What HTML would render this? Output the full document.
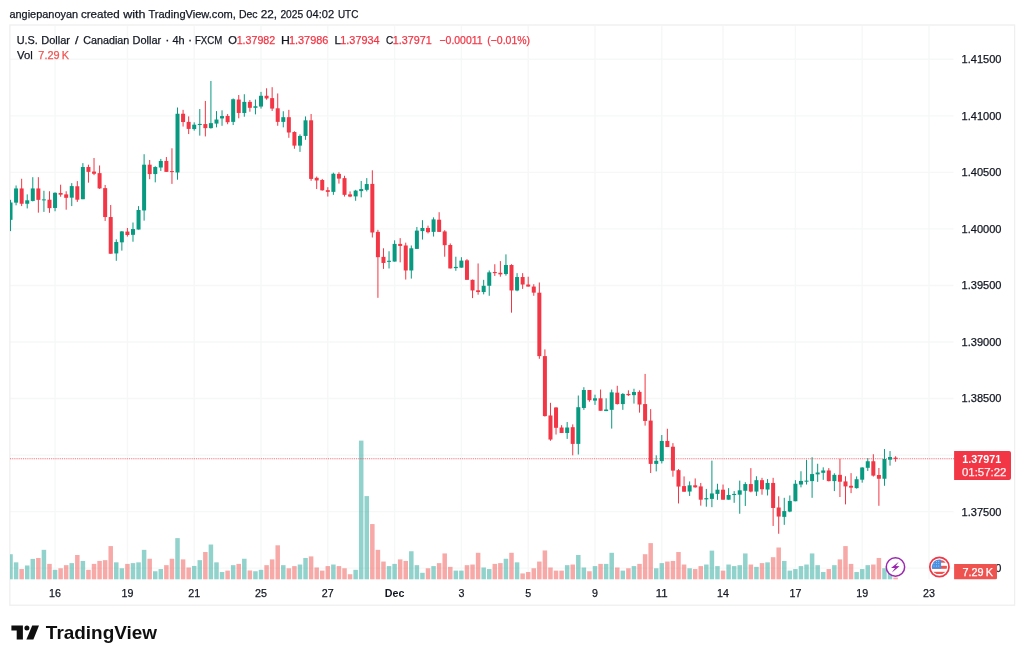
<!DOCTYPE html>
<html lang="en"><head><meta charset="utf-8"><title>USDCAD 4h - TradingView</title>
<style>html,body{margin:0;padding:0;background:#fff;}body{width:1024px;height:661px;overflow:hidden;}</style>
</head><body>
<svg width="1024" height="661" viewBox="0 0 1024 661" style="display:block">
<rect width="1024" height="661" fill="#fff"/>
<defs><clipPath id="pane"><rect x="10" y="26" width="944" height="554"/></clipPath></defs>
<g stroke="#F6F7F7" stroke-width="1.4">
<line x1="10" x2="953.5" y1="59.30" y2="59.30"/>
<line x1="10" x2="953.5" y1="115.84" y2="115.84"/>
<line x1="10" x2="953.5" y1="172.38" y2="172.38"/>
<line x1="10" x2="953.5" y1="228.92" y2="228.92"/>
<line x1="10" x2="953.5" y1="285.46" y2="285.46"/>
<line x1="10" x2="953.5" y1="342.00" y2="342.00"/>
<line x1="10" x2="953.5" y1="398.54" y2="398.54"/>
<line x1="10" x2="953.5" y1="455.08" y2="455.08"/>
<line x1="10" x2="953.5" y1="511.62" y2="511.62"/>
<line x1="10" x2="953.5" y1="568.16" y2="568.16"/>
<line x1="55.05" x2="55.05" y1="26" y2="579.3"/>
<line x1="127.41" x2="127.41" y1="26" y2="579.3"/>
<line x1="194.21" x2="194.21" y1="26" y2="579.3"/>
<line x1="261.01" x2="261.01" y1="26" y2="579.3"/>
<line x1="327.81" x2="327.81" y1="26" y2="579.3"/>
<line x1="394.61" x2="394.61" y1="26" y2="579.3"/>
<line x1="461.40" x2="461.40" y1="26" y2="579.3"/>
<line x1="528.20" x2="528.20" y1="26" y2="579.3"/>
<line x1="595.00" x2="595.00" y1="26" y2="579.3"/>
<line x1="661.80" x2="661.80" y1="26" y2="579.3"/>
<line x1="723.03" x2="723.03" y1="26" y2="579.3"/>
<line x1="795.39" x2="795.39" y1="26" y2="579.3"/>
<line x1="862.19" x2="862.19" y1="26" y2="579.3"/>
<line x1="928.99" x2="928.99" y1="26" y2="579.3"/>
</g>
<rect x="9.85" y="25.0" width="1004.75" height="580.20" fill="none" stroke="#EFEFEF" stroke-width="1.3"/>
<g clip-path="url(#pane)">
<rect x="8.27" y="554.22" width="4.5" height="25.08" fill="rgba(38,166,154,0.5)"/>
<rect x="13.83" y="562.34" width="4.5" height="16.96" fill="rgba(38,166,154,0.5)"/>
<rect x="19.40" y="569.06" width="4.5" height="10.24" fill="rgba(239,83,80,0.5)"/>
<rect x="24.97" y="565.47" width="4.5" height="13.83" fill="rgba(38,166,154,0.5)"/>
<rect x="30.53" y="558.91" width="4.5" height="20.39" fill="rgba(38,166,154,0.5)"/>
<rect x="36.10" y="557.97" width="4.5" height="21.33" fill="rgba(239,83,80,0.5)"/>
<rect x="41.67" y="549.84" width="4.5" height="29.46" fill="rgba(38,166,154,0.5)"/>
<rect x="47.23" y="563.91" width="4.5" height="15.39" fill="rgba(239,83,80,0.5)"/>
<rect x="52.80" y="569.84" width="4.5" height="9.46" fill="rgba(38,166,154,0.5)"/>
<rect x="58.37" y="568.28" width="4.5" height="11.02" fill="rgba(239,83,80,0.5)"/>
<rect x="63.93" y="565.16" width="4.5" height="14.14" fill="rgba(239,83,80,0.5)"/>
<rect x="69.50" y="563.12" width="4.5" height="16.17" fill="rgba(38,166,154,0.5)"/>
<rect x="75.07" y="555.00" width="4.5" height="24.30" fill="rgba(239,83,80,0.5)"/>
<rect x="80.63" y="560.94" width="4.5" height="18.36" fill="rgba(38,166,154,0.5)"/>
<rect x="86.20" y="569.84" width="4.5" height="9.46" fill="rgba(239,83,80,0.5)"/>
<rect x="91.77" y="563.91" width="4.5" height="15.39" fill="rgba(239,83,80,0.5)"/>
<rect x="97.33" y="560.94" width="4.5" height="18.36" fill="rgba(239,83,80,0.5)"/>
<rect x="102.90" y="560.16" width="4.5" height="19.14" fill="rgba(239,83,80,0.5)"/>
<rect x="108.46" y="546.09" width="4.5" height="33.21" fill="rgba(239,83,80,0.5)"/>
<rect x="114.03" y="562.34" width="4.5" height="16.96" fill="rgba(38,166,154,0.5)"/>
<rect x="119.60" y="568.28" width="4.5" height="11.02" fill="rgba(38,166,154,0.5)"/>
<rect x="125.16" y="563.91" width="4.5" height="15.39" fill="rgba(239,83,80,0.5)"/>
<rect x="130.73" y="563.12" width="4.5" height="16.17" fill="rgba(38,166,154,0.5)"/>
<rect x="136.30" y="562.34" width="4.5" height="16.96" fill="rgba(38,166,154,0.5)"/>
<rect x="141.86" y="549.84" width="4.5" height="29.46" fill="rgba(38,166,154,0.5)"/>
<rect x="147.43" y="558.75" width="4.5" height="20.55" fill="rgba(239,83,80,0.5)"/>
<rect x="153.00" y="571.25" width="4.5" height="8.05" fill="rgba(38,166,154,0.5)"/>
<rect x="158.56" y="569.06" width="4.5" height="10.24" fill="rgba(38,166,154,0.5)"/>
<rect x="164.13" y="565.16" width="4.5" height="14.14" fill="rgba(239,83,80,0.5)"/>
<rect x="169.70" y="558.75" width="4.5" height="20.55" fill="rgba(239,83,80,0.5)"/>
<rect x="175.26" y="538.12" width="4.5" height="41.17" fill="rgba(38,166,154,0.5)"/>
<rect x="180.83" y="559.38" width="4.5" height="19.92" fill="rgba(239,83,80,0.5)"/>
<rect x="186.40" y="567.50" width="4.5" height="11.80" fill="rgba(239,83,80,0.5)"/>
<rect x="191.96" y="565.94" width="4.5" height="13.36" fill="rgba(38,166,154,0.5)"/>
<rect x="197.53" y="560.16" width="4.5" height="19.14" fill="rgba(38,166,154,0.5)"/>
<rect x="203.10" y="552.03" width="4.5" height="27.27" fill="rgba(239,83,80,0.5)"/>
<rect x="208.66" y="544.53" width="4.5" height="34.77" fill="rgba(38,166,154,0.5)"/>
<rect x="214.23" y="562.34" width="4.5" height="16.96" fill="rgba(38,166,154,0.5)"/>
<rect x="219.79" y="572.03" width="4.5" height="7.27" fill="rgba(38,166,154,0.5)"/>
<rect x="225.36" y="570.62" width="4.5" height="8.67" fill="rgba(239,83,80,0.5)"/>
<rect x="230.93" y="565.16" width="4.5" height="14.14" fill="rgba(38,166,154,0.5)"/>
<rect x="236.49" y="563.91" width="4.5" height="15.39" fill="rgba(239,83,80,0.5)"/>
<rect x="242.06" y="558.75" width="4.5" height="20.55" fill="rgba(38,166,154,0.5)"/>
<rect x="247.63" y="570.47" width="4.5" height="8.83" fill="rgba(239,83,80,0.5)"/>
<rect x="253.19" y="571.25" width="4.5" height="8.05" fill="rgba(38,166,154,0.5)"/>
<rect x="258.76" y="569.84" width="4.5" height="9.46" fill="rgba(38,166,154,0.5)"/>
<rect x="264.33" y="565.16" width="4.5" height="14.14" fill="rgba(239,83,80,0.5)"/>
<rect x="269.89" y="559.38" width="4.5" height="19.92" fill="rgba(239,83,80,0.5)"/>
<rect x="275.46" y="545.31" width="4.5" height="33.99" fill="rgba(239,83,80,0.5)"/>
<rect x="281.03" y="565.16" width="4.5" height="14.14" fill="rgba(38,166,154,0.5)"/>
<rect x="286.59" y="568.28" width="4.5" height="11.02" fill="rgba(239,83,80,0.5)"/>
<rect x="292.16" y="566.09" width="4.5" height="13.21" fill="rgba(239,83,80,0.5)"/>
<rect x="297.73" y="564.53" width="4.5" height="14.77" fill="rgba(38,166,154,0.5)"/>
<rect x="303.29" y="557.97" width="4.5" height="21.33" fill="rgba(38,166,154,0.5)"/>
<rect x="308.86" y="556.41" width="4.5" height="22.89" fill="rgba(239,83,80,0.5)"/>
<rect x="314.43" y="567.50" width="4.5" height="11.80" fill="rgba(239,83,80,0.5)"/>
<rect x="319.99" y="570.62" width="4.5" height="8.67" fill="rgba(239,83,80,0.5)"/>
<rect x="325.56" y="566.09" width="4.5" height="13.21" fill="rgba(239,83,80,0.5)"/>
<rect x="331.12" y="564.53" width="4.5" height="14.77" fill="rgba(38,166,154,0.5)"/>
<rect x="336.69" y="566.09" width="4.5" height="13.21" fill="rgba(239,83,80,0.5)"/>
<rect x="342.26" y="568.28" width="4.5" height="11.02" fill="rgba(239,83,80,0.5)"/>
<rect x="347.82" y="574.22" width="4.5" height="5.08" fill="rgba(239,83,80,0.5)"/>
<rect x="353.39" y="569.84" width="4.5" height="9.46" fill="rgba(38,166,154,0.5)"/>
<rect x="358.96" y="440.62" width="4.5" height="138.67" fill="rgba(38,166,154,0.5)"/>
<rect x="364.52" y="496.09" width="4.5" height="83.21" fill="rgba(38,166,154,0.5)"/>
<rect x="370.09" y="524.06" width="4.5" height="55.24" fill="rgba(239,83,80,0.5)"/>
<rect x="375.66" y="549.84" width="4.5" height="29.46" fill="rgba(239,83,80,0.5)"/>
<rect x="381.22" y="561.56" width="4.5" height="17.74" fill="rgba(239,83,80,0.5)"/>
<rect x="386.79" y="566.09" width="4.5" height="13.21" fill="rgba(38,166,154,0.5)"/>
<rect x="392.36" y="563.91" width="4.5" height="15.39" fill="rgba(38,166,154,0.5)"/>
<rect x="397.92" y="559.38" width="4.5" height="19.92" fill="rgba(239,83,80,0.5)"/>
<rect x="403.49" y="560.94" width="4.5" height="18.36" fill="rgba(239,83,80,0.5)"/>
<rect x="409.06" y="551.25" width="4.5" height="28.05" fill="rgba(38,166,154,0.5)"/>
<rect x="414.62" y="565.16" width="4.5" height="14.14" fill="rgba(38,166,154,0.5)"/>
<rect x="420.19" y="572.81" width="4.5" height="6.49" fill="rgba(38,166,154,0.5)"/>
<rect x="425.76" y="568.28" width="4.5" height="11.02" fill="rgba(239,83,80,0.5)"/>
<rect x="431.32" y="566.09" width="4.5" height="13.21" fill="rgba(38,166,154,0.5)"/>
<rect x="436.89" y="563.12" width="4.5" height="16.17" fill="rgba(239,83,80,0.5)"/>
<rect x="442.45" y="553.44" width="4.5" height="25.86" fill="rgba(239,83,80,0.5)"/>
<rect x="448.02" y="566.88" width="4.5" height="12.42" fill="rgba(239,83,80,0.5)"/>
<rect x="453.59" y="570.62" width="4.5" height="8.67" fill="rgba(38,166,154,0.5)"/>
<rect x="459.15" y="570.62" width="4.5" height="8.67" fill="rgba(38,166,154,0.5)"/>
<rect x="464.72" y="565.16" width="4.5" height="14.14" fill="rgba(239,83,80,0.5)"/>
<rect x="470.29" y="564.53" width="4.5" height="14.77" fill="rgba(239,83,80,0.5)"/>
<rect x="475.85" y="552.81" width="4.5" height="26.49" fill="rgba(239,83,80,0.5)"/>
<rect x="481.42" y="567.50" width="4.5" height="11.80" fill="rgba(38,166,154,0.5)"/>
<rect x="486.99" y="569.06" width="4.5" height="10.24" fill="rgba(38,166,154,0.5)"/>
<rect x="492.55" y="563.91" width="4.5" height="15.39" fill="rgba(239,83,80,0.5)"/>
<rect x="498.12" y="563.12" width="4.5" height="16.17" fill="rgba(239,83,80,0.5)"/>
<rect x="503.69" y="558.75" width="4.5" height="20.55" fill="rgba(38,166,154,0.5)"/>
<rect x="509.25" y="552.81" width="4.5" height="26.49" fill="rgba(239,83,80,0.5)"/>
<rect x="514.82" y="562.34" width="4.5" height="16.96" fill="rgba(38,166,154,0.5)"/>
<rect x="520.39" y="573.44" width="4.5" height="5.86" fill="rgba(239,83,80,0.5)"/>
<rect x="525.95" y="572.03" width="4.5" height="7.27" fill="rgba(239,83,80,0.5)"/>
<rect x="531.52" y="568.28" width="4.5" height="11.02" fill="rgba(239,83,80,0.5)"/>
<rect x="537.09" y="561.56" width="4.5" height="17.74" fill="rgba(239,83,80,0.5)"/>
<rect x="542.65" y="550.47" width="4.5" height="28.83" fill="rgba(239,83,80,0.5)"/>
<rect x="548.22" y="567.50" width="4.5" height="11.80" fill="rgba(239,83,80,0.5)"/>
<rect x="553.78" y="570.62" width="4.5" height="8.67" fill="rgba(239,83,80,0.5)"/>
<rect x="559.35" y="570.62" width="4.5" height="8.67" fill="rgba(239,83,80,0.5)"/>
<rect x="564.92" y="565.16" width="4.5" height="14.14" fill="rgba(38,166,154,0.5)"/>
<rect x="570.48" y="564.53" width="4.5" height="14.77" fill="rgba(239,83,80,0.5)"/>
<rect x="576.05" y="555.00" width="4.5" height="24.30" fill="rgba(38,166,154,0.5)"/>
<rect x="581.62" y="567.50" width="4.5" height="11.80" fill="rgba(38,166,154,0.5)"/>
<rect x="587.18" y="571.25" width="4.5" height="8.05" fill="rgba(239,83,80,0.5)"/>
<rect x="592.75" y="566.09" width="4.5" height="13.21" fill="rgba(38,166,154,0.5)"/>
<rect x="598.32" y="563.91" width="4.5" height="15.39" fill="rgba(239,83,80,0.5)"/>
<rect x="603.88" y="563.91" width="4.5" height="15.39" fill="rgba(38,166,154,0.5)"/>
<rect x="609.45" y="552.81" width="4.5" height="26.49" fill="rgba(38,166,154,0.5)"/>
<rect x="615.02" y="567.50" width="4.5" height="11.80" fill="rgba(239,83,80,0.5)"/>
<rect x="620.58" y="570.62" width="4.5" height="8.67" fill="rgba(38,166,154,0.5)"/>
<rect x="626.15" y="568.28" width="4.5" height="11.02" fill="rgba(239,83,80,0.5)"/>
<rect x="631.72" y="566.09" width="4.5" height="13.21" fill="rgba(38,166,154,0.5)"/>
<rect x="637.28" y="563.91" width="4.5" height="15.39" fill="rgba(239,83,80,0.5)"/>
<rect x="642.85" y="554.22" width="4.5" height="25.08" fill="rgba(239,83,80,0.5)"/>
<rect x="648.42" y="543.12" width="4.5" height="36.17" fill="rgba(239,83,80,0.5)"/>
<rect x="653.98" y="568.28" width="4.5" height="11.02" fill="rgba(38,166,154,0.5)"/>
<rect x="659.55" y="563.12" width="4.5" height="16.17" fill="rgba(38,166,154,0.5)"/>
<rect x="665.11" y="561.56" width="4.5" height="17.74" fill="rgba(239,83,80,0.5)"/>
<rect x="670.68" y="560.94" width="4.5" height="18.36" fill="rgba(239,83,80,0.5)"/>
<rect x="676.25" y="552.03" width="4.5" height="27.27" fill="rgba(239,83,80,0.5)"/>
<rect x="681.81" y="564.53" width="4.5" height="14.77" fill="rgba(239,83,80,0.5)"/>
<rect x="687.38" y="568.28" width="4.5" height="11.02" fill="rgba(38,166,154,0.5)"/>
<rect x="692.95" y="569.06" width="4.5" height="10.24" fill="rgba(239,83,80,0.5)"/>
<rect x="698.51" y="566.09" width="4.5" height="13.21" fill="rgba(239,83,80,0.5)"/>
<rect x="704.08" y="564.53" width="4.5" height="14.77" fill="rgba(38,166,154,0.5)"/>
<rect x="709.65" y="550.62" width="4.5" height="28.67" fill="rgba(38,166,154,0.5)"/>
<rect x="715.21" y="566.09" width="4.5" height="13.21" fill="rgba(38,166,154,0.5)"/>
<rect x="720.78" y="570.62" width="4.5" height="8.67" fill="rgba(239,83,80,0.5)"/>
<rect x="726.35" y="564.53" width="4.5" height="14.77" fill="rgba(38,166,154,0.5)"/>
<rect x="731.91" y="566.09" width="4.5" height="13.21" fill="rgba(38,166,154,0.5)"/>
<rect x="737.48" y="565.16" width="4.5" height="14.14" fill="rgba(38,166,154,0.5)"/>
<rect x="743.05" y="553.44" width="4.5" height="25.86" fill="rgba(38,166,154,0.5)"/>
<rect x="748.61" y="564.53" width="4.5" height="14.77" fill="rgba(239,83,80,0.5)"/>
<rect x="754.18" y="566.88" width="4.5" height="12.42" fill="rgba(38,166,154,0.5)"/>
<rect x="759.75" y="563.12" width="4.5" height="16.17" fill="rgba(239,83,80,0.5)"/>
<rect x="765.31" y="562.34" width="4.5" height="16.96" fill="rgba(38,166,154,0.5)"/>
<rect x="770.88" y="557.19" width="4.5" height="22.11" fill="rgba(239,83,80,0.5)"/>
<rect x="776.44" y="547.50" width="4.5" height="31.80" fill="rgba(239,83,80,0.5)"/>
<rect x="782.01" y="560.94" width="4.5" height="18.36" fill="rgba(38,166,154,0.5)"/>
<rect x="787.58" y="570.62" width="4.5" height="8.67" fill="rgba(38,166,154,0.5)"/>
<rect x="793.14" y="569.06" width="4.5" height="10.24" fill="rgba(38,166,154,0.5)"/>
<rect x="798.71" y="566.09" width="4.5" height="13.21" fill="rgba(38,166,154,0.5)"/>
<rect x="804.28" y="564.53" width="4.5" height="14.77" fill="rgba(38,166,154,0.5)"/>
<rect x="809.84" y="553.44" width="4.5" height="25.86" fill="rgba(38,166,154,0.5)"/>
<rect x="815.41" y="565.16" width="4.5" height="14.14" fill="rgba(38,166,154,0.5)"/>
<rect x="820.98" y="572.03" width="4.5" height="7.27" fill="rgba(38,166,154,0.5)"/>
<rect x="826.54" y="569.06" width="4.5" height="10.24" fill="rgba(239,83,80,0.5)"/>
<rect x="832.11" y="565.16" width="4.5" height="14.14" fill="rgba(38,166,154,0.5)"/>
<rect x="837.68" y="559.38" width="4.5" height="19.92" fill="rgba(239,83,80,0.5)"/>
<rect x="843.24" y="546.09" width="4.5" height="33.21" fill="rgba(239,83,80,0.5)"/>
<rect x="848.81" y="563.91" width="4.5" height="15.39" fill="rgba(239,83,80,0.5)"/>
<rect x="854.38" y="572.03" width="4.5" height="7.27" fill="rgba(38,166,154,0.5)"/>
<rect x="859.94" y="569.06" width="4.5" height="10.24" fill="rgba(38,166,154,0.5)"/>
<rect x="865.51" y="565.16" width="4.5" height="14.14" fill="rgba(38,166,154,0.5)"/>
<rect x="871.08" y="564.53" width="4.5" height="14.77" fill="rgba(239,83,80,0.5)"/>
<rect x="876.64" y="557.97" width="4.5" height="21.33" fill="rgba(239,83,80,0.5)"/>
<rect x="882.21" y="568.28" width="4.5" height="11.02" fill="rgba(38,166,154,0.5)"/>
<rect x="887.77" y="573.28" width="4.5" height="6.02" fill="rgba(38,166,154,0.5)"/>
<rect x="893.34" y="577.50" width="4.5" height="1.80" fill="rgba(239,83,80,0.5)"/>
<line x1="10" x2="954" y1="458.8" y2="458.8" stroke="#F23645" stroke-width="1.1" stroke-dasharray="0.93 0.93" opacity="0.75"/>
<rect x="10.02" y="199.84" width="1" height="31.25" fill="#089981"/>
<rect x="8.52" y="202.50" width="4" height="17.34" fill="#089981"/>
<rect x="15.58" y="185.47" width="1" height="19.84" fill="#089981"/>
<rect x="14.08" y="188.44" width="4" height="14.22" fill="#089981"/>
<rect x="21.15" y="178.75" width="1" height="27.34" fill="#F23645"/>
<rect x="19.65" y="188.44" width="4" height="15.31" fill="#F23645"/>
<rect x="26.72" y="194.38" width="1" height="14.06" fill="#089981"/>
<rect x="25.22" y="200.31" width="4" height="3.44" fill="#089981"/>
<rect x="32.28" y="177.19" width="1" height="24.22" fill="#089981"/>
<rect x="30.78" y="188.44" width="4" height="12.50" fill="#089981"/>
<rect x="37.85" y="177.19" width="1" height="35.47" fill="#F23645"/>
<rect x="36.35" y="188.44" width="4" height="11.41" fill="#F23645"/>
<rect x="43.42" y="190.78" width="1" height="21.09" fill="#089981"/>
<rect x="41.92" y="199.38" width="4" height="1.00" fill="#089981"/>
<rect x="48.98" y="191.25" width="1" height="21.56" fill="#F23645"/>
<rect x="47.48" y="199.69" width="4" height="8.44" fill="#F23645"/>
<rect x="54.55" y="192.34" width="1" height="18.91" fill="#089981"/>
<rect x="53.05" y="192.81" width="4" height="15.16" fill="#089981"/>
<rect x="60.12" y="184.69" width="1" height="12.03" fill="#F23645"/>
<rect x="58.62" y="192.97" width="4" height="1.72" fill="#F23645"/>
<rect x="65.68" y="191.25" width="1" height="18.44" fill="#F23645"/>
<rect x="64.18" y="194.38" width="4" height="3.44" fill="#F23645"/>
<rect x="71.25" y="183.12" width="1" height="22.97" fill="#089981"/>
<rect x="69.75" y="186.09" width="4" height="11.56" fill="#089981"/>
<rect x="76.82" y="181.09" width="1" height="20.78" fill="#F23645"/>
<rect x="75.32" y="186.25" width="4" height="13.44" fill="#F23645"/>
<rect x="82.38" y="163.12" width="1" height="36.09" fill="#089981"/>
<rect x="80.88" y="167.03" width="4" height="32.19" fill="#089981"/>
<rect x="87.95" y="164.69" width="1" height="17.97" fill="#F23645"/>
<rect x="86.45" y="167.03" width="4" height="4.84" fill="#F23645"/>
<rect x="93.52" y="157.97" width="1" height="17.19" fill="#F23645"/>
<rect x="92.02" y="171.56" width="4" height="2.19" fill="#F23645"/>
<rect x="99.08" y="165.47" width="1" height="23.44" fill="#F23645"/>
<rect x="97.58" y="173.12" width="4" height="15.31" fill="#F23645"/>
<rect x="104.65" y="185.00" width="1" height="35.94" fill="#F23645"/>
<rect x="103.15" y="188.12" width="4" height="28.91" fill="#F23645"/>
<rect x="110.21" y="205.00" width="1" height="48.75" fill="#F23645"/>
<rect x="108.71" y="217.03" width="4" height="36.72" fill="#F23645"/>
<rect x="115.78" y="239.38" width="1" height="21.41" fill="#089981"/>
<rect x="114.28" y="242.03" width="4" height="11.41" fill="#089981"/>
<rect x="121.35" y="231.09" width="1" height="19.53" fill="#089981"/>
<rect x="119.85" y="231.41" width="4" height="10.94" fill="#089981"/>
<rect x="126.91" y="227.97" width="1" height="8.59" fill="#F23645"/>
<rect x="125.41" y="231.56" width="4" height="3.44" fill="#F23645"/>
<rect x="132.48" y="222.50" width="1" height="19.22" fill="#089981"/>
<rect x="130.98" y="229.06" width="4" height="5.78" fill="#089981"/>
<rect x="138.05" y="206.09" width="1" height="23.44" fill="#089981"/>
<rect x="136.55" y="210.00" width="4" height="19.53" fill="#089981"/>
<rect x="143.61" y="154.22" width="1" height="66.41" fill="#089981"/>
<rect x="142.11" y="164.69" width="4" height="45.78" fill="#089981"/>
<rect x="149.18" y="160.00" width="1" height="19.22" fill="#F23645"/>
<rect x="147.68" y="164.69" width="4" height="9.38" fill="#F23645"/>
<rect x="154.75" y="166.25" width="1" height="16.09" fill="#089981"/>
<rect x="153.25" y="167.03" width="4" height="7.03" fill="#089981"/>
<rect x="160.31" y="158.91" width="1" height="12.03" fill="#089981"/>
<rect x="158.81" y="160.94" width="4" height="6.56" fill="#089981"/>
<rect x="165.88" y="157.03" width="1" height="14.84" fill="#F23645"/>
<rect x="164.38" y="160.94" width="4" height="10.94" fill="#F23645"/>
<rect x="171.45" y="148.28" width="1" height="35.62" fill="#F23645"/>
<rect x="169.95" y="171.09" width="4" height="1.00" fill="#F23645"/>
<rect x="177.01" y="107.50" width="1" height="72.20" fill="#089981"/>
<rect x="175.51" y="113.75" width="4" height="58.75" fill="#089981"/>
<rect x="182.58" y="109.84" width="1" height="16.72" fill="#F23645"/>
<rect x="181.08" y="113.75" width="4" height="8.28" fill="#F23645"/>
<rect x="188.15" y="116.41" width="1" height="17.66" fill="#F23645"/>
<rect x="186.65" y="121.88" width="4" height="7.03" fill="#F23645"/>
<rect x="193.71" y="122.34" width="1" height="8.28" fill="#089981"/>
<rect x="192.21" y="124.69" width="4" height="4.38" fill="#089981"/>
<rect x="199.28" y="109.06" width="1" height="26.56" fill="#089981"/>
<rect x="197.78" y="123.91" width="4" height="1.09" fill="#089981"/>
<rect x="204.85" y="100.94" width="1" height="35.47" fill="#F23645"/>
<rect x="203.35" y="124.06" width="4" height="4.06" fill="#F23645"/>
<rect x="210.41" y="80.94" width="1" height="47.66" fill="#089981"/>
<rect x="208.91" y="123.12" width="4" height="5.00" fill="#089981"/>
<rect x="215.98" y="111.09" width="1" height="16.25" fill="#089981"/>
<rect x="214.48" y="119.53" width="4" height="4.06" fill="#089981"/>
<rect x="221.54" y="110.31" width="1" height="15.47" fill="#089981"/>
<rect x="220.04" y="116.09" width="4" height="2.34" fill="#089981"/>
<rect x="227.11" y="114.06" width="1" height="10.16" fill="#F23645"/>
<rect x="225.61" y="115.94" width="4" height="6.25" fill="#F23645"/>
<rect x="232.68" y="98.44" width="1" height="26.56" fill="#089981"/>
<rect x="231.18" y="99.22" width="4" height="22.66" fill="#089981"/>
<rect x="238.24" y="95.00" width="1" height="23.28" fill="#F23645"/>
<rect x="236.74" y="99.53" width="4" height="13.44" fill="#F23645"/>
<rect x="243.81" y="94.22" width="1" height="22.50" fill="#089981"/>
<rect x="242.31" y="101.88" width="4" height="11.09" fill="#089981"/>
<rect x="249.38" y="100.00" width="1" height="11.72" fill="#F23645"/>
<rect x="247.88" y="101.88" width="4" height="5.94" fill="#F23645"/>
<rect x="254.94" y="99.53" width="1" height="14.84" fill="#089981"/>
<rect x="253.44" y="106.25" width="4" height="1.56" fill="#089981"/>
<rect x="260.51" y="91.88" width="1" height="16.72" fill="#089981"/>
<rect x="259.01" y="95.78" width="4" height="10.78" fill="#089981"/>
<rect x="266.08" y="88.28" width="1" height="11.41" fill="#F23645"/>
<rect x="264.58" y="95.78" width="4" height="2.66" fill="#F23645"/>
<rect x="271.64" y="87.19" width="1" height="23.75" fill="#F23645"/>
<rect x="270.14" y="98.12" width="4" height="10.47" fill="#F23645"/>
<rect x="277.21" y="93.44" width="1" height="32.34" fill="#F23645"/>
<rect x="275.71" y="108.28" width="4" height="13.59" fill="#F23645"/>
<rect x="282.78" y="111.25" width="1" height="16.09" fill="#089981"/>
<rect x="281.28" y="117.19" width="4" height="4.69" fill="#089981"/>
<rect x="288.34" y="109.84" width="1" height="27.97" fill="#F23645"/>
<rect x="286.84" y="117.19" width="4" height="15.31" fill="#F23645"/>
<rect x="293.91" y="131.25" width="1" height="17.50" fill="#F23645"/>
<rect x="292.41" y="132.03" width="4" height="13.59" fill="#F23645"/>
<rect x="299.48" y="134.38" width="1" height="17.50" fill="#089981"/>
<rect x="297.98" y="135.94" width="4" height="9.69" fill="#089981"/>
<rect x="305.04" y="116.41" width="1" height="23.44" fill="#089981"/>
<rect x="303.54" y="120.31" width="4" height="15.62" fill="#089981"/>
<rect x="310.61" y="114.00" width="1" height="66.80" fill="#F23645"/>
<rect x="309.11" y="120.30" width="4" height="58.60" fill="#F23645"/>
<rect x="316.18" y="176.56" width="1" height="12.50" fill="#F23645"/>
<rect x="314.68" y="177.81" width="4" height="2.66" fill="#F23645"/>
<rect x="321.74" y="178.91" width="1" height="11.72" fill="#F23645"/>
<rect x="320.24" y="180.00" width="4" height="10.31" fill="#F23645"/>
<rect x="327.31" y="187.19" width="1" height="9.38" fill="#F23645"/>
<rect x="325.81" y="190.16" width="4" height="1.72" fill="#F23645"/>
<rect x="332.88" y="172.66" width="1" height="22.19" fill="#089981"/>
<rect x="331.38" y="173.75" width="4" height="18.12" fill="#089981"/>
<rect x="338.44" y="172.19" width="1" height="11.41" fill="#F23645"/>
<rect x="336.94" y="173.91" width="4" height="4.69" fill="#F23645"/>
<rect x="344.01" y="175.78" width="1" height="20.78" fill="#F23645"/>
<rect x="342.51" y="178.12" width="4" height="16.72" fill="#F23645"/>
<rect x="349.57" y="191.41" width="1" height="5.78" fill="#F23645"/>
<rect x="348.07" y="194.38" width="4" height="2.19" fill="#F23645"/>
<rect x="355.14" y="189.84" width="1" height="10.94" fill="#089981"/>
<rect x="353.64" y="190.62" width="4" height="5.78" fill="#089981"/>
<rect x="360.71" y="180.94" width="1" height="16.41" fill="#089981"/>
<rect x="359.21" y="189.06" width="4" height="2.03" fill="#089981"/>
<rect x="366.27" y="178.12" width="1" height="13.28" fill="#089981"/>
<rect x="364.77" y="184.06" width="4" height="5.78" fill="#089981"/>
<rect x="371.84" y="170.31" width="1" height="67.19" fill="#F23645"/>
<rect x="370.34" y="183.91" width="4" height="48.59" fill="#F23645"/>
<rect x="377.41" y="229.84" width="1" height="67.97" fill="#F23645"/>
<rect x="375.91" y="231.88" width="4" height="25.31" fill="#F23645"/>
<rect x="382.97" y="248.28" width="1" height="20.62" fill="#F23645"/>
<rect x="381.47" y="256.88" width="4" height="6.09" fill="#F23645"/>
<rect x="388.54" y="251.25" width="1" height="17.19" fill="#089981"/>
<rect x="387.04" y="260.78" width="4" height="1.09" fill="#089981"/>
<rect x="394.11" y="240.31" width="1" height="21.25" fill="#089981"/>
<rect x="392.61" y="243.91" width="4" height="17.66" fill="#089981"/>
<rect x="399.67" y="238.12" width="1" height="24.22" fill="#F23645"/>
<rect x="398.17" y="243.91" width="4" height="2.03" fill="#F23645"/>
<rect x="405.24" y="242.66" width="1" height="36.88" fill="#F23645"/>
<rect x="403.74" y="245.47" width="4" height="25.00" fill="#F23645"/>
<rect x="410.81" y="245.47" width="1" height="33.12" fill="#089981"/>
<rect x="409.31" y="248.28" width="4" height="22.19" fill="#089981"/>
<rect x="416.37" y="227.03" width="1" height="21.88" fill="#089981"/>
<rect x="414.87" y="230.62" width="4" height="18.28" fill="#089981"/>
<rect x="421.94" y="220.16" width="1" height="19.38" fill="#089981"/>
<rect x="420.44" y="227.97" width="4" height="3.12" fill="#089981"/>
<rect x="427.51" y="225.62" width="1" height="7.81" fill="#F23645"/>
<rect x="426.01" y="227.97" width="4" height="4.22" fill="#F23645"/>
<rect x="433.07" y="217.34" width="1" height="19.22" fill="#089981"/>
<rect x="431.57" y="219.38" width="4" height="12.50" fill="#089981"/>
<rect x="438.64" y="212.19" width="1" height="19.69" fill="#F23645"/>
<rect x="437.14" y="219.69" width="4" height="12.19" fill="#F23645"/>
<rect x="444.20" y="230.16" width="1" height="26.56" fill="#F23645"/>
<rect x="442.70" y="231.41" width="4" height="13.75" fill="#F23645"/>
<rect x="449.77" y="243.44" width="1" height="25.00" fill="#F23645"/>
<rect x="448.27" y="245.00" width="4" height="23.44" fill="#F23645"/>
<rect x="455.34" y="256.72" width="1" height="14.06" fill="#089981"/>
<rect x="453.84" y="266.88" width="4" height="1.25" fill="#089981"/>
<rect x="460.90" y="257.19" width="1" height="10.47" fill="#089981"/>
<rect x="459.40" y="260.62" width="4" height="7.03" fill="#089981"/>
<rect x="466.47" y="259.06" width="1" height="20.78" fill="#F23645"/>
<rect x="464.97" y="260.31" width="4" height="19.53" fill="#F23645"/>
<rect x="472.04" y="279.53" width="1" height="18.59" fill="#F23645"/>
<rect x="470.54" y="279.84" width="4" height="10.62" fill="#F23645"/>
<rect x="477.60" y="263.44" width="1" height="31.25" fill="#F23645"/>
<rect x="476.10" y="290.31" width="4" height="1.72" fill="#F23645"/>
<rect x="483.17" y="279.84" width="1" height="14.53" fill="#089981"/>
<rect x="481.67" y="285.78" width="4" height="6.25" fill="#089981"/>
<rect x="488.74" y="270.47" width="1" height="25.31" fill="#089981"/>
<rect x="487.24" y="272.34" width="4" height="13.44" fill="#089981"/>
<rect x="494.30" y="264.22" width="1" height="11.72" fill="#F23645"/>
<rect x="492.80" y="272.03" width="4" height="1.09" fill="#F23645"/>
<rect x="499.87" y="261.09" width="1" height="15.62" fill="#F23645"/>
<rect x="498.37" y="272.81" width="4" height="1.56" fill="#F23645"/>
<rect x="505.44" y="254.38" width="1" height="21.25" fill="#089981"/>
<rect x="503.94" y="265.00" width="4" height="9.06" fill="#089981"/>
<rect x="511.00" y="264.22" width="1" height="48.44" fill="#F23645"/>
<rect x="509.50" y="265.00" width="4" height="25.47" fill="#F23645"/>
<rect x="516.57" y="273.12" width="1" height="18.12" fill="#089981"/>
<rect x="515.07" y="277.03" width="4" height="13.44" fill="#089981"/>
<rect x="522.14" y="273.12" width="1" height="15.78" fill="#F23645"/>
<rect x="520.64" y="277.03" width="4" height="7.50" fill="#F23645"/>
<rect x="527.70" y="276.72" width="1" height="9.84" fill="#F23645"/>
<rect x="526.20" y="284.53" width="4" height="2.03" fill="#F23645"/>
<rect x="533.27" y="284.22" width="1" height="11.56" fill="#F23645"/>
<rect x="531.77" y="286.56" width="4" height="6.09" fill="#F23645"/>
<rect x="538.84" y="282.50" width="1" height="76.30" fill="#F23645"/>
<rect x="537.34" y="292.70" width="4" height="63.40" fill="#F23645"/>
<rect x="544.40" y="349.38" width="1" height="67.19" fill="#F23645"/>
<rect x="542.90" y="356.09" width="4" height="60.00" fill="#F23645"/>
<rect x="549.97" y="402.81" width="1" height="37.97" fill="#F23645"/>
<rect x="548.47" y="415.47" width="4" height="24.06" fill="#F23645"/>
<rect x="555.53" y="407.19" width="1" height="27.34" fill="#F23645"/>
<rect x="554.03" y="407.50" width="4" height="20.31" fill="#F23645"/>
<rect x="561.10" y="425.16" width="1" height="7.81" fill="#F23645"/>
<rect x="559.60" y="427.50" width="4" height="5.47" fill="#F23645"/>
<rect x="566.67" y="422.03" width="1" height="16.88" fill="#089981"/>
<rect x="565.17" y="427.50" width="4" height="5.47" fill="#089981"/>
<rect x="572.23" y="424.38" width="1" height="30.94" fill="#F23645"/>
<rect x="570.73" y="427.19" width="4" height="16.72" fill="#F23645"/>
<rect x="577.80" y="395.50" width="1" height="59.00" fill="#089981"/>
<rect x="576.30" y="407.20" width="4" height="36.70" fill="#089981"/>
<rect x="583.37" y="387.19" width="1" height="22.66" fill="#089981"/>
<rect x="581.87" y="390.00" width="4" height="17.97" fill="#089981"/>
<rect x="588.93" y="390.00" width="1" height="11.72" fill="#F23645"/>
<rect x="587.43" y="390.00" width="4" height="10.16" fill="#F23645"/>
<rect x="594.50" y="394.69" width="1" height="10.16" fill="#089981"/>
<rect x="593.00" y="398.28" width="4" height="2.34" fill="#089981"/>
<rect x="600.07" y="389.53" width="1" height="21.25" fill="#F23645"/>
<rect x="598.57" y="398.28" width="4" height="12.50" fill="#F23645"/>
<rect x="605.63" y="398.28" width="1" height="12.81" fill="#089981"/>
<rect x="604.13" y="409.53" width="4" height="1.56" fill="#089981"/>
<rect x="611.20" y="389.53" width="1" height="39.06" fill="#089981"/>
<rect x="609.70" y="392.34" width="4" height="17.50" fill="#089981"/>
<rect x="616.77" y="385.78" width="1" height="18.75" fill="#F23645"/>
<rect x="615.27" y="392.66" width="4" height="11.41" fill="#F23645"/>
<rect x="622.33" y="393.12" width="1" height="16.72" fill="#089981"/>
<rect x="620.83" y="393.91" width="4" height="10.16" fill="#089981"/>
<rect x="627.90" y="390.31" width="1" height="5.62" fill="#F23645"/>
<rect x="626.40" y="393.91" width="4" height="1.25" fill="#F23645"/>
<rect x="633.47" y="388.75" width="1" height="14.84" fill="#089981"/>
<rect x="631.97" y="392.03" width="4" height="3.12" fill="#089981"/>
<rect x="639.03" y="390.31" width="1" height="22.34" fill="#F23645"/>
<rect x="637.53" y="391.88" width="4" height="12.66" fill="#F23645"/>
<rect x="644.60" y="373.91" width="1" height="51.72" fill="#F23645"/>
<rect x="643.10" y="404.06" width="4" height="16.88" fill="#F23645"/>
<rect x="650.17" y="409.10" width="1" height="63.90" fill="#F23645"/>
<rect x="648.67" y="420.60" width="4" height="43.30" fill="#F23645"/>
<rect x="655.73" y="455.31" width="1" height="16.09" fill="#089981"/>
<rect x="654.23" y="460.78" width="4" height="3.12" fill="#089981"/>
<rect x="661.30" y="435.00" width="1" height="28.44" fill="#089981"/>
<rect x="659.80" y="440.94" width="4" height="20.16" fill="#089981"/>
<rect x="666.86" y="428.75" width="1" height="18.28" fill="#F23645"/>
<rect x="665.36" y="440.94" width="4" height="6.09" fill="#F23645"/>
<rect x="672.43" y="443.12" width="1" height="33.59" fill="#F23645"/>
<rect x="670.93" y="446.72" width="4" height="23.91" fill="#F23645"/>
<rect x="678.00" y="469.06" width="1" height="34.38" fill="#F23645"/>
<rect x="676.50" y="470.16" width="4" height="16.41" fill="#F23645"/>
<rect x="683.56" y="476.41" width="1" height="15.31" fill="#F23645"/>
<rect x="682.06" y="486.09" width="4" height="5.62" fill="#F23645"/>
<rect x="689.13" y="481.41" width="1" height="14.53" fill="#089981"/>
<rect x="687.63" y="485.31" width="4" height="6.25" fill="#089981"/>
<rect x="694.70" y="478.44" width="1" height="9.22" fill="#F23645"/>
<rect x="693.20" y="485.31" width="4" height="2.03" fill="#F23645"/>
<rect x="700.26" y="482.97" width="1" height="22.66" fill="#F23645"/>
<rect x="698.76" y="486.41" width="4" height="13.28" fill="#F23645"/>
<rect x="705.83" y="488.91" width="1" height="17.81" fill="#089981"/>
<rect x="704.33" y="498.12" width="4" height="1.25" fill="#089981"/>
<rect x="711.40" y="460.62" width="1" height="46.56" fill="#089981"/>
<rect x="709.90" y="493.44" width="4" height="5.47" fill="#089981"/>
<rect x="716.96" y="483.75" width="1" height="16.09" fill="#089981"/>
<rect x="715.46" y="489.69" width="4" height="4.22" fill="#089981"/>
<rect x="722.53" y="484.53" width="1" height="15.16" fill="#F23645"/>
<rect x="721.03" y="489.69" width="4" height="10.00" fill="#F23645"/>
<rect x="728.10" y="488.12" width="1" height="11.56" fill="#089981"/>
<rect x="726.60" y="495.00" width="4" height="4.69" fill="#089981"/>
<rect x="733.66" y="491.09" width="1" height="11.72" fill="#089981"/>
<rect x="732.16" y="493.91" width="4" height="1.09" fill="#089981"/>
<rect x="739.23" y="480.62" width="1" height="33.12" fill="#089981"/>
<rect x="737.73" y="490.31" width="4" height="4.38" fill="#089981"/>
<rect x="744.80" y="482.19" width="1" height="23.75" fill="#089981"/>
<rect x="743.30" y="484.06" width="4" height="6.72" fill="#089981"/>
<rect x="750.36" y="468.12" width="1" height="24.22" fill="#F23645"/>
<rect x="748.86" y="484.06" width="4" height="7.50" fill="#F23645"/>
<rect x="755.93" y="476.25" width="1" height="19.69" fill="#089981"/>
<rect x="754.43" y="480.16" width="4" height="11.41" fill="#089981"/>
<rect x="761.50" y="477.81" width="1" height="16.88" fill="#F23645"/>
<rect x="760.00" y="480.16" width="4" height="9.06" fill="#F23645"/>
<rect x="767.06" y="479.06" width="1" height="16.41" fill="#089981"/>
<rect x="765.56" y="482.97" width="4" height="6.56" fill="#089981"/>
<rect x="772.63" y="477.81" width="1" height="48.12" fill="#F23645"/>
<rect x="771.13" y="482.97" width="4" height="25.00" fill="#F23645"/>
<rect x="778.19" y="496.25" width="1" height="37.50" fill="#F23645"/>
<rect x="776.69" y="507.50" width="4" height="9.06" fill="#F23645"/>
<rect x="783.76" y="497.81" width="1" height="27.03" fill="#089981"/>
<rect x="782.26" y="511.09" width="4" height="5.78" fill="#089981"/>
<rect x="789.33" y="495.47" width="1" height="16.72" fill="#089981"/>
<rect x="787.83" y="500.94" width="4" height="10.62" fill="#089981"/>
<rect x="794.89" y="480.16" width="1" height="21.09" fill="#089981"/>
<rect x="793.39" y="483.75" width="4" height="17.50" fill="#089981"/>
<rect x="800.46" y="471.25" width="1" height="16.09" fill="#089981"/>
<rect x="798.96" y="480.94" width="4" height="3.59" fill="#089981"/>
<rect x="806.03" y="459.84" width="1" height="24.69" fill="#089981"/>
<rect x="804.53" y="480.62" width="4" height="1.09" fill="#089981"/>
<rect x="811.59" y="457.19" width="1" height="40.62" fill="#089981"/>
<rect x="810.09" y="474.06" width="4" height="7.03" fill="#089981"/>
<rect x="817.16" y="463.75" width="1" height="18.12" fill="#089981"/>
<rect x="815.66" y="472.50" width="4" height="1.88" fill="#089981"/>
<rect x="822.73" y="467.34" width="1" height="12.50" fill="#089981"/>
<rect x="821.23" y="470.47" width="4" height="2.34" fill="#089981"/>
<rect x="828.29" y="468.12" width="1" height="13.28" fill="#F23645"/>
<rect x="826.79" y="470.47" width="4" height="10.62" fill="#F23645"/>
<rect x="833.86" y="473.28" width="1" height="17.81" fill="#089981"/>
<rect x="832.36" y="474.84" width="4" height="6.25" fill="#089981"/>
<rect x="839.43" y="458.75" width="1" height="38.28" fill="#F23645"/>
<rect x="837.93" y="474.84" width="4" height="6.88" fill="#F23645"/>
<rect x="844.99" y="476.25" width="1" height="28.12" fill="#F23645"/>
<rect x="843.49" y="481.41" width="4" height="5.00" fill="#F23645"/>
<rect x="850.56" y="473.12" width="1" height="20.00" fill="#F23645"/>
<rect x="849.06" y="485.78" width="4" height="1.88" fill="#F23645"/>
<rect x="856.13" y="476.41" width="1" height="12.19" fill="#089981"/>
<rect x="854.63" y="479.22" width="4" height="8.91" fill="#089981"/>
<rect x="861.69" y="467.19" width="1" height="15.47" fill="#089981"/>
<rect x="860.19" y="467.50" width="4" height="12.19" fill="#089981"/>
<rect x="867.26" y="458.12" width="1" height="12.81" fill="#089981"/>
<rect x="865.76" y="461.25" width="4" height="6.56" fill="#089981"/>
<rect x="872.83" y="454.22" width="1" height="22.34" fill="#F23645"/>
<rect x="871.33" y="461.25" width="4" height="14.38" fill="#F23645"/>
<rect x="878.39" y="467.97" width="1" height="37.81" fill="#F23645"/>
<rect x="876.89" y="475.00" width="4" height="3.75" fill="#F23645"/>
<rect x="883.96" y="449.06" width="1" height="36.72" fill="#089981"/>
<rect x="882.46" y="458.91" width="4" height="19.84" fill="#089981"/>
<rect x="889.52" y="451.09" width="1" height="14.53" fill="#089981"/>
<rect x="888.02" y="457.03" width="4" height="2.66" fill="#089981"/>
<rect x="895.09" y="456.25" width="1" height="5.47" fill="#F23645"/>
<rect x="893.59" y="457.66" width="4" height="1.25" fill="#F23645"/>
</g>
<text y="63.2" font-family="'Liberation Sans', sans-serif" font-size="11.2" fill="#131722" stroke="#131722" stroke-width="0.25" xml:space="preserve"><tspan x="961.52" textLength="39.98" lengthAdjust="spacingAndGlyphs">1.41500</tspan></text>
<text y="119.7" font-family="'Liberation Sans', sans-serif" font-size="11.2" fill="#131722" stroke="#131722" stroke-width="0.25" xml:space="preserve"><tspan x="961.52" textLength="39.98" lengthAdjust="spacingAndGlyphs">1.41000</tspan></text>
<text y="176.3" font-family="'Liberation Sans', sans-serif" font-size="11.2" fill="#131722" stroke="#131722" stroke-width="0.25" xml:space="preserve"><tspan x="961.52" textLength="39.98" lengthAdjust="spacingAndGlyphs">1.40500</tspan></text>
<text y="232.8" font-family="'Liberation Sans', sans-serif" font-size="11.2" fill="#131722" stroke="#131722" stroke-width="0.25" xml:space="preserve"><tspan x="961.52" textLength="39.98" lengthAdjust="spacingAndGlyphs">1.40000</tspan></text>
<text y="289.4" font-family="'Liberation Sans', sans-serif" font-size="11.2" fill="#131722" stroke="#131722" stroke-width="0.25" xml:space="preserve"><tspan x="961.52" textLength="39.98" lengthAdjust="spacingAndGlyphs">1.39500</tspan></text>
<text y="345.9" font-family="'Liberation Sans', sans-serif" font-size="11.2" fill="#131722" stroke="#131722" stroke-width="0.25" xml:space="preserve"><tspan x="961.52" textLength="39.98" lengthAdjust="spacingAndGlyphs">1.39000</tspan></text>
<text y="402.4" font-family="'Liberation Sans', sans-serif" font-size="11.2" fill="#131722" stroke="#131722" stroke-width="0.25" xml:space="preserve"><tspan x="961.52" textLength="39.98" lengthAdjust="spacingAndGlyphs">1.38500</tspan></text>
<text y="459.0" font-family="'Liberation Sans', sans-serif" font-size="11.2" fill="#131722" stroke="#131722" stroke-width="0.25" xml:space="preserve"><tspan x="961.52" textLength="39.98" lengthAdjust="spacingAndGlyphs">1.38000</tspan></text>
<text y="515.5" font-family="'Liberation Sans', sans-serif" font-size="11.2" fill="#131722" stroke="#131722" stroke-width="0.25" xml:space="preserve"><tspan x="961.52" textLength="39.98" lengthAdjust="spacingAndGlyphs">1.37500</tspan></text>
<text y="572.1" font-family="'Liberation Sans', sans-serif" font-size="11.2" fill="#131722" stroke="#131722" stroke-width="0.25" xml:space="preserve"><tspan x="961.52" textLength="39.98" lengthAdjust="spacingAndGlyphs">1.37000</tspan></text>
<g font-family="'Liberation Sans', sans-serif" font-size="11.3" fill="#131722" stroke="#131722" stroke-width="0.25" text-anchor="middle">
<text x="55.0" y="596.6" textLength="11.9" lengthAdjust="spacingAndGlyphs">16</text>
<text x="127.4" y="596.6" textLength="11.9" lengthAdjust="spacingAndGlyphs">19</text>
<text x="194.2" y="596.6" textLength="11.9" lengthAdjust="spacingAndGlyphs">21</text>
<text x="261.0" y="596.6" textLength="11.9" lengthAdjust="spacingAndGlyphs">25</text>
<text x="327.8" y="596.6" textLength="11.9" lengthAdjust="spacingAndGlyphs">27</text>
<text x="394.6" y="596.6" font-weight="bold" stroke-width="0" textLength="19.6" lengthAdjust="spacingAndGlyphs">Dec</text>
<text x="461.4" y="596.6" textLength="5.95" lengthAdjust="spacingAndGlyphs">3</text>
<text x="528.2" y="596.6" textLength="5.95" lengthAdjust="spacingAndGlyphs">5</text>
<text x="595.0" y="596.6" textLength="5.95" lengthAdjust="spacingAndGlyphs">9</text>
<text x="661.8" y="596.6" textLength="11.9" lengthAdjust="spacingAndGlyphs">11</text>
<text x="723.0" y="596.6" textLength="11.9" lengthAdjust="spacingAndGlyphs">14</text>
<text x="795.4" y="596.6" textLength="11.9" lengthAdjust="spacingAndGlyphs">17</text>
<text x="862.2" y="596.6" textLength="11.9" lengthAdjust="spacingAndGlyphs">19</text>
<text x="929.0" y="596.6" textLength="11.9" lengthAdjust="spacingAndGlyphs">23</text>
</g>
<path d="M954.1 563.9 H995.7 a1.3 1.3 0 0 1 1.3 1.3 V577.9 a1.3 1.3 0 0 1 -1.3 1.3 H954.1 Z" fill="#EF5350"/>
<text y="575.85" font-family="'Liberation Sans', sans-serif" font-size="11.2" fill="#fff" stroke="#fff" stroke-width="0.25" xml:space="preserve"><tspan x="962.46" textLength="30.59" lengthAdjust="spacingAndGlyphs">7.29 K</tspan></text>
<path d="M954.1 450.9 H1009 a2 2 0 0 1 2 2 V478 a2 2 0 0 1 -2 2 H954.1 Z" fill="#F23645"/>
<text y="462.8" font-family="'Liberation Sans', sans-serif" font-size="11.0" fill="#fff" font-weight="bold" xml:space="preserve"><tspan x="962.36" textLength="38.81" lengthAdjust="spacingAndGlyphs">1.37971</tspan></text>
<text opacity="0.92" y="476.2" font-family="'Liberation Sans', sans-serif" font-size="11.2" fill="#fff" stroke="#fff" stroke-width="0.25" xml:space="preserve"><tspan x="961.94" textLength="44.56" lengthAdjust="spacingAndGlyphs">01:57:22</tspan></text>
<g>
<circle cx="895.45" cy="567" r="9.2" fill="#fff" stroke="#9C27B0" stroke-width="1.5"/>
<path d="M898.8 561.8 L891.0 567.9 L895.0 568.1 L891.9 572.4 L899.6 566.2 L895.8 566.0 Z" fill="#9C27B0"/>
</g>
<g>
<defs><clipPath id="flag"><circle cx="939.4" cy="567" r="7.6"/></clipPath></defs>
<circle cx="939.4" cy="567" r="9.6" fill="#fff" stroke="#F23645" stroke-width="1.7"/>
<g clip-path="url(#flag)">
<rect x="931" y="558" width="18" height="18" fill="#fff"/>
<rect x="931" y="560.3" width="18" height="2.4" fill="#EF5350"/>
<rect x="931" y="565.8" width="18" height="3.0" fill="#EF5350"/>
<rect x="931" y="571.8" width="18" height="2.2" fill="#EF5350"/>
<rect x="931" y="558" width="10.1" height="10.75" fill="#4A90E2"/>
<circle cx="934.0" cy="561.2" r="0.45" fill="#fff"/>
<circle cx="936.4" cy="561.2" r="0.45" fill="#fff"/>
<circle cx="938.8" cy="561.2" r="0.45" fill="#fff"/>
<circle cx="934.0" cy="563.6" r="0.45" fill="#fff"/>
<circle cx="936.4" cy="563.6" r="0.45" fill="#fff"/>
<circle cx="938.8" cy="563.6" r="0.45" fill="#fff"/>
<circle cx="934.0" cy="566.0" r="0.45" fill="#fff"/>
<circle cx="936.4" cy="566.0" r="0.45" fill="#fff"/>
<circle cx="938.8" cy="566.0" r="0.45" fill="#fff"/>
</g></g>
<text y="18.45" font-family="'Liberation Sans', sans-serif" font-size="11.4" fill="#131722" stroke="#131722" stroke-width="0.25" xml:space="preserve"><tspan x="9.42" textLength="68.67" lengthAdjust="spacingAndGlyphs">angiepanoyan</tspan> <tspan x="80.94" textLength="38.72" lengthAdjust="spacingAndGlyphs">created</tspan> <tspan x="123.30" textLength="22.26" lengthAdjust="spacingAndGlyphs">with</tspan> <tspan x="148.38" textLength="87.50" lengthAdjust="spacingAndGlyphs">TradingView.com,</tspan> <tspan x="238.96" textLength="18.64" lengthAdjust="spacingAndGlyphs">Dec</tspan> <tspan x="260.81" textLength="16.35" lengthAdjust="spacingAndGlyphs">22,</tspan> <tspan x="280.39" textLength="22.77" lengthAdjust="spacingAndGlyphs">2025</tspan> <tspan x="306.36" textLength="27.72" lengthAdjust="spacingAndGlyphs">04:02</tspan> <tspan x="337.90" textLength="20.45" lengthAdjust="spacingAndGlyphs">UTC</tspan></text>
<text y="43.8" font-family="'Liberation Sans', sans-serif" font-size="11.3" fill="#131722" stroke="#131722" stroke-width="0.25" xml:space="preserve"><tspan x="16.68" textLength="21.15" lengthAdjust="spacingAndGlyphs">U.S.</tspan> <tspan x="41.22" textLength="28.76" lengthAdjust="spacingAndGlyphs">Dollar</tspan> <tspan x="75.08" textLength="3.52" lengthAdjust="spacingAndGlyphs">/</tspan> <tspan x="83.26" textLength="46.00" lengthAdjust="spacingAndGlyphs">Canadian</tspan> <tspan x="132.52" textLength="28.61" lengthAdjust="spacingAndGlyphs">Dollar</tspan> <tspan x="165.21" textLength="4.22" lengthAdjust="spacingAndGlyphs">·</tspan> <tspan x="172.38" textLength="12.20" lengthAdjust="spacingAndGlyphs">4h</tspan> <tspan x="187.91" textLength="4.22" lengthAdjust="spacingAndGlyphs">·</tspan> <tspan x="194.93" textLength="27.38" lengthAdjust="spacingAndGlyphs">FXCM</tspan> <tspan x="228.34" textLength="8.69" lengthAdjust="spacingAndGlyphs">O</tspan> <tspan x="236.65" textLength="38.54" lengthAdjust="spacingAndGlyphs" fill="#F23645" stroke="#F23645">1.37982</tspan> <tspan x="281.01" textLength="8.90" lengthAdjust="spacingAndGlyphs">H</tspan> <tspan x="288.93" textLength="39.46" lengthAdjust="spacingAndGlyphs" fill="#F23645" stroke="#F23645">1.37986</tspan> <tspan x="334.53" textLength="6.07" lengthAdjust="spacingAndGlyphs">L</tspan> <tspan x="340.33" textLength="39.14" lengthAdjust="spacingAndGlyphs" fill="#F23645" stroke="#F23645">1.37934</tspan> <tspan x="385.90" textLength="7.22" lengthAdjust="spacingAndGlyphs">C</tspan> <tspan x="392.84" textLength="38.95" lengthAdjust="spacingAndGlyphs" fill="#F23645" stroke="#F23645">1.37971</tspan> <tspan x="439.48" textLength="43.09" lengthAdjust="spacingAndGlyphs" fill="#F23645" stroke="#F23645">−0.00011</tspan> <tspan x="487.17" textLength="42.92" lengthAdjust="spacingAndGlyphs" fill="#F23645" stroke="#F23645">(−0.01%)</tspan></text>
<text y="59.2" font-family="'Liberation Sans', sans-serif" font-size="11.3" fill="#131722" stroke="#131722" stroke-width="0.25" xml:space="preserve"><tspan x="16.99" textLength="15.71" lengthAdjust="spacingAndGlyphs">Vol</tspan> <tspan x="38.36" textLength="30.54" lengthAdjust="spacingAndGlyphs" fill="#EF5350" stroke="#EF5350">7.29 K</tspan></text>
<g fill="#0F0F0F">
<path d="M11.4 625.5 H22.9 V639.4 H16.7 V630.6 H11.4 Z"/>
<circle cx="26.9" cy="628.1" r="2.5"/>
<path d="M32.2 625.5 H39 L33.4 639.4 H26.4 Z"/>
</g>
<text y="639.4" font-family="'Liberation Sans', sans-serif" font-size="19" fill="#0F0F0F" font-weight="bold" xml:space="preserve"><tspan x="45.86" textLength="111.18" lengthAdjust="spacingAndGlyphs">TradingView</tspan></text>
</svg>
</body></html>
